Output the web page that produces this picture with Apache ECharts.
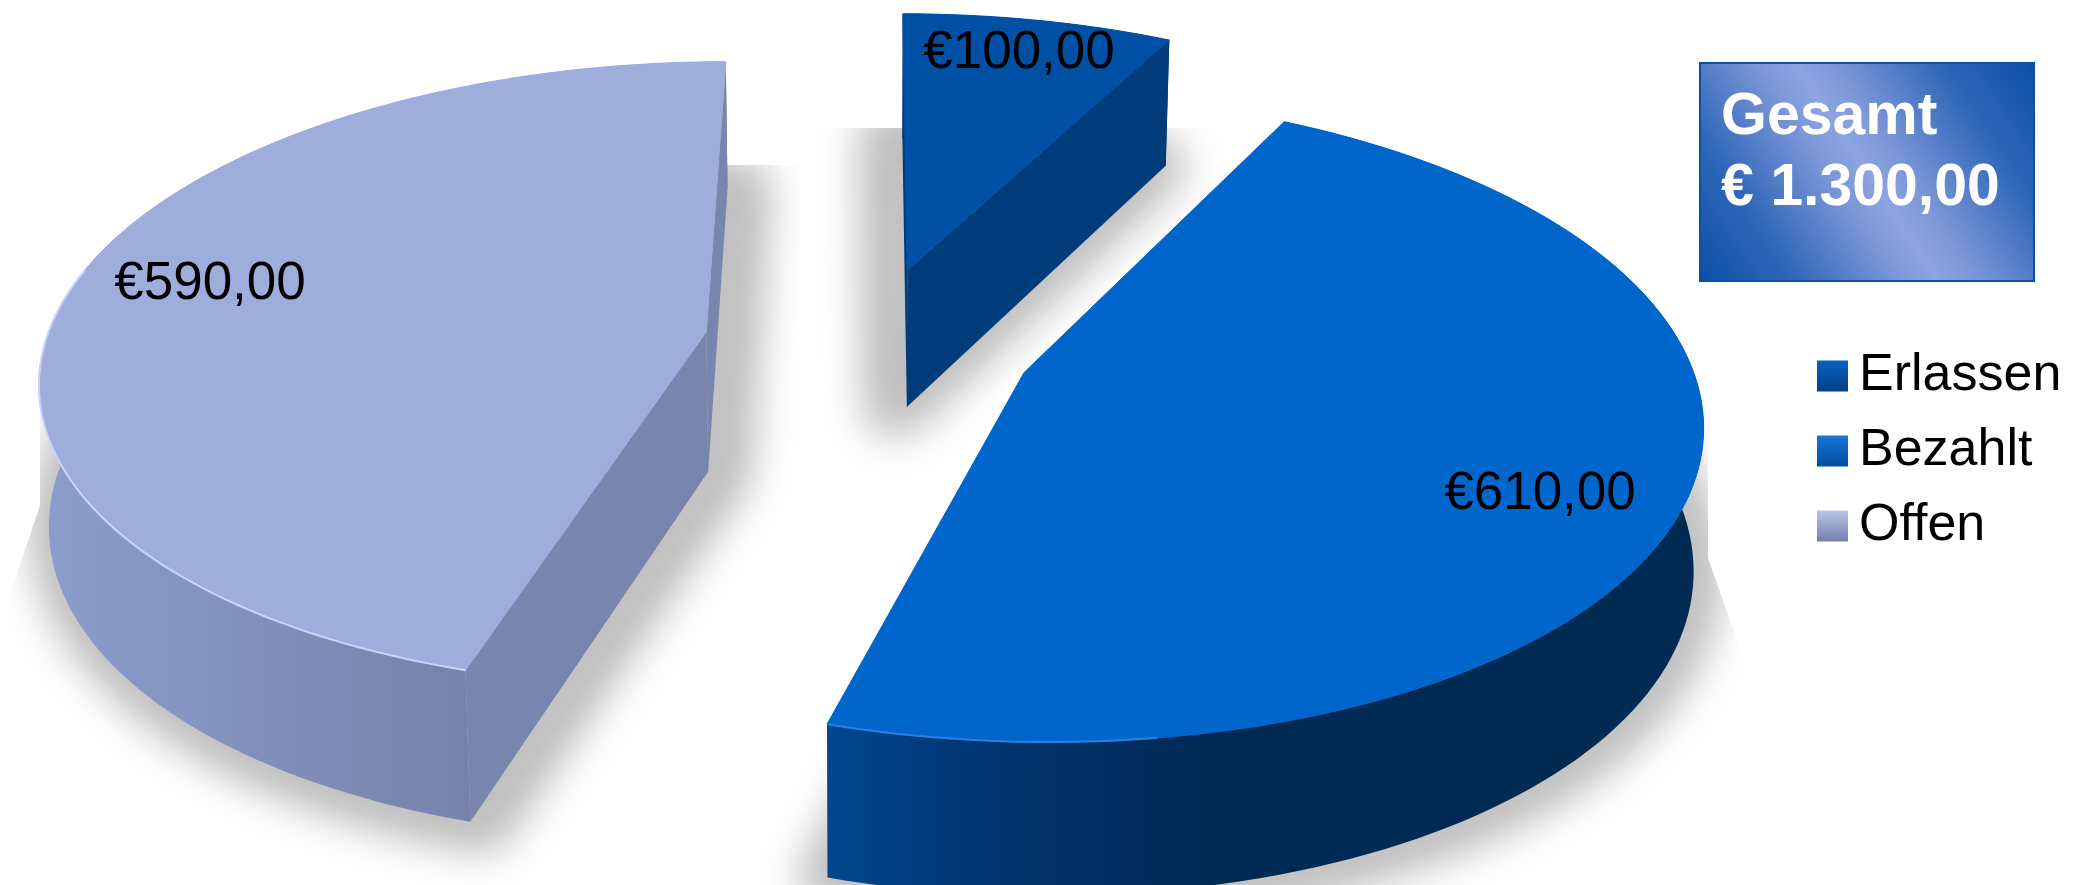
<!DOCTYPE html>
<html>
<head>
<meta charset="utf-8">
<title>Gesamt</title>
<script src="https://cdn.jsdelivr.net/npm/echarts@6/dist/echarts.min.js"></script>
<style>
  html, body { margin: 0; padding: 0; background: #fff; }
  #chart { width: 2084px; height: 885px; }
</style>
</head>
<body>
<div id="chart"></div>
<script>
// Werte aus dem Bild
const categories = ['Erlassen', 'Bezahlt', 'Offen'];
const amounts = [100, 610, 590];

// Geometrie der "3D"-Torte
const CENTER = [869, 343];
const RX = 661, RY = 310;
const PERSP = 0.137;    // Fluchtung nach hinten
const EXPLODE = 0.25;
const DEPTH = 140, DEPTH_PERSP = 0.09, BOTTOM_SHRINK = 0.988;
const FONT = '"Liberation Sans", Arial, sans-serif';
const OFFSCREEN = 4000; // Schatten wird von ausserhalb geworfen, damit nur die Unschaerfe sichtbar ist

const styles = {
  Erlassen: {
    top: '#0050a6', radial: '#003b7a', showRadial: true,
    side: [[0, '#003b7a'], [1, '#003b7a']],
    labelAt: [1019, 53],
    shadow: { spread: 62, blur: 40, dx: -12 },
    shadowClip: [[760, 128], [1300, 128], [1300, 700], [760, 700]]
  },
  Bezahlt: {
    top: '#0066cc', radial: '#00336e', showRadial: false,
    side: [[0, '#00478f'], [0.2, '#00336e'], [0.45, '#002a54'], [1, '#002a52']],
    labelAt: [1540, 494],
    edge: '#2a80e0', edgeFrom: 172, edgeTo: 196.6,
    shadow: { spread: 56, blur: 40, dx: 0 },
    shadowClip: [[700, 200], [1708, 200], [1708, 558], [1824, 885], [700, 885]]
  },
  Offen: {
    top: '#9eaddc', radial: '#7885ad', showRadial: true,
    side: [[0, '#8c9dcc'], [0.87, '#6e789c'], [1, '#6e789c']],
    labelAt: [210, 284],
    edge: '#c8d5fb', edgeFrom: 196.6, edgeTo: 282,
    shadow: { spread: 62, blur: 40, dx: 12 },
    shadowClip: [[40, 165], [800, 165], [800, 885], [-90, 885], [0, 625], [40, 505]]
  }
};

const legendFills = {
  Erlassen: ['#0a62c0', '#003f85'],
  Bezahlt: ['#1a74d8', '#004f9f'],
  Offen: ['#b7c4e8', '#7480a8']
};

const total = amounts.reduce((s, v) => s + v, 0);
const fmt = v => v.toFixed(2).replace('.', ',');
const fmtTotal = v => fmt(v).replace(/\B(?=(\d{3})+,)/g, '.');

const rad = d => d * Math.PI / 180;

// Boden-Koordinaten -> Bild, eine Perspektive fuer alle Stuecke
function project(U, V) {
  const w = 1 - PERSP * V;
  return [CENTER[0] + RX * U / w, CENTER[1] + RY * V / w];
}

// Winkel: im Uhrzeigersinn ab 12 Uhr
function sliceGeometry(idx, value) {
  const before = amounts.slice(0, idx).reduce((s, v) => s + v, 0);
  const a0 = before / total * 360;
  const a1 = a0 + value / total * 360;
  const mid = rad((a0 + a1) / 2);
  const U0 = EXPLODE * Math.sin(mid), V0 = -EXPLODE * Math.cos(mid);
  const topPt = deg => {
    const U = U0 + Math.sin(rad(deg)), V = V0 - Math.cos(rad(deg));
    return { p: project(U, V), V };
  };
  const apex = { p: project(U0, V0), V: V0 };
  const drop = pt => [
    CENTER[0] + (pt.p[0] - CENTER[0]) * BOTTOM_SHRINK,
    pt.p[1] + DEPTH * (1 + DEPTH_PERSP * pt.V)
  ];
  const arc = [];
  const steps = Math.ceil((a1 - a0) / 1.5);
  for (let i = 0; i <= steps; i++) arc.push(topPt(a0 + (a1 - a0) * i / steps));
  return { a0, a1, apex, arc, topPt, drop };
}

function poly(points, style, extra) {
  return Object.assign({ type: 'polygon', shape: { points }, style, silent: true }, extra);
}

function renderSlice(name, idx) {
  return function (params, api) {
    const value = api.value(0);
    const st = styles[name];
    const g = sliceGeometry(idx, value);
    const arcTop = g.arc.map(a => a.p);
    const arcBottom = g.arc.map(g.drop);
    const apexBottom = g.drop(g.apex);
    const first = g.arc[0], last = g.arc[g.arc.length - 1];
    const children = [];

    // weicher Schatten unter dem Stueck
    const shadowPts = [apexBottom].concat(arcBottom).map(p => [p[0] - OFFSCREEN, p[1]]);
    children.push(poly(shadowPts, {
      fill: '#bfbfbf', stroke: '#bfbfbf', lineWidth: st.shadow.spread, lineJoin: 'round',
      shadowBlur: st.shadow.blur, shadowColor: '#bfbfbf',
      shadowOffsetX: OFFSCREEN + st.shadow.dx, shadowOffsetY: 0
    }, { clipPath: { type: 'polygon', shape: { points: st.shadowClip } } }));

    // Mantel
    children.push(poly(arcTop.concat(arcBottom.slice().reverse()), {
      fill: new echarts.graphic.LinearGradient(0, 0, 1, 0, st.side.map(s => ({ offset: s[0], color: s[1] })))
    }));
    // Schnittflaechen
    if (st.showRadial) {
      children.push(poly([g.apex.p, first.p, g.drop(first), apexBottom], { fill: st.radial }));
      children.push(poly([g.apex.p, last.p, g.drop(last), apexBottom], { fill: st.radial }));
    }
    // Deckflaeche
    children.push(poly([g.apex.p].concat(arcTop), { fill: st.top, stroke: st.top, lineWidth: 1 }));

    // heller Rand vorne
    if (st.edge) {
      const pts = [];
      for (let d = st.edgeFrom; d < st.edgeTo; d += 1.5) pts.push(g.topPt(d).p);
      pts.push(g.topPt(st.edgeTo).p);
      children.push({ type: 'polyline', shape: { points: pts }, silent: true,
        style: { stroke: st.edge, lineWidth: 2, fill: null } });
    }

    children.push({
      type: 'text', silent: true,
      style: {
        text: '€' + fmt(value), x: st.labelAt[0], y: st.labelAt[1],
        align: 'center', verticalAlign: 'middle',
        font: '53px ' + FONT, fill: '#000'
      }
    });
    return { type: 'group', children };
  };
}

// hinten nach vorne zeichnen
const drawOrder = [2, 0, 1];

const chart = echarts.init(document.getElementById('chart'), null, { renderer: 'canvas' });
chart.setOption({
  backgroundColor: '#fff',
  animation: false,
  legend: {
    orient: 'vertical', left: 1812, top: 345,
    itemWidth: 31, itemHeight: 31, itemGap: 23,
    icon: 'rect', selectedMode: false,
    textStyle: { fontFamily: FONT, fontSize: 52, color: '#000', padding: [0, 0, 0, 6], lineHeight: 52 },
    data: categories.map(name => ({
      name,
      itemStyle: {
        color: new echarts.graphic.LinearGradient(0, 0, 0, 1, [
          { offset: 0, color: legendFills[name][0] },
          { offset: 1, color: legendFills[name][1] }
        ])
      }
    }))
  },
  graphic: [
    {
      type: 'rect', silent: true,
      shape: { x: 1700, y: 63, width: 334, height: 218 },
      style: {
        stroke: '#0a50a6', lineWidth: 2,
        fill: new echarts.graphic.LinearGradient(0, 1, 1, 0, [
          { offset: 0, color: '#0b50a6' },
          { offset: 0.2, color: '#2e66b8' },
          { offset: 0.42, color: '#7d97d8' },
          { offset: 0.5, color: '#8da4e0' },
          { offset: 0.58, color: '#7d97d8' },
          { offset: 0.8, color: '#2e66b8' },
          { offset: 1, color: '#0b50a6' }
        ])
      }
    },
    {
      type: 'text', silent: true,
      style: {
        text: 'Gesamt\n€ ' + fmtTotal(total),
        x: 1721, y: 82, lineHeight: 71,
        font: 'bold 59px ' + FONT, fill: '#fff'
      }
    }
  ],
  series: drawOrder.map(i => ({
    type: 'custom',
    name: categories[i],
    coordinateSystem: 'none',
    silent: true,
    data: [[amounts[i]]],
    renderItem: renderSlice(categories[i], i)
  }))
});
window.addEventListener('resize', () => chart.resize());
</script>
</body>
</html>
